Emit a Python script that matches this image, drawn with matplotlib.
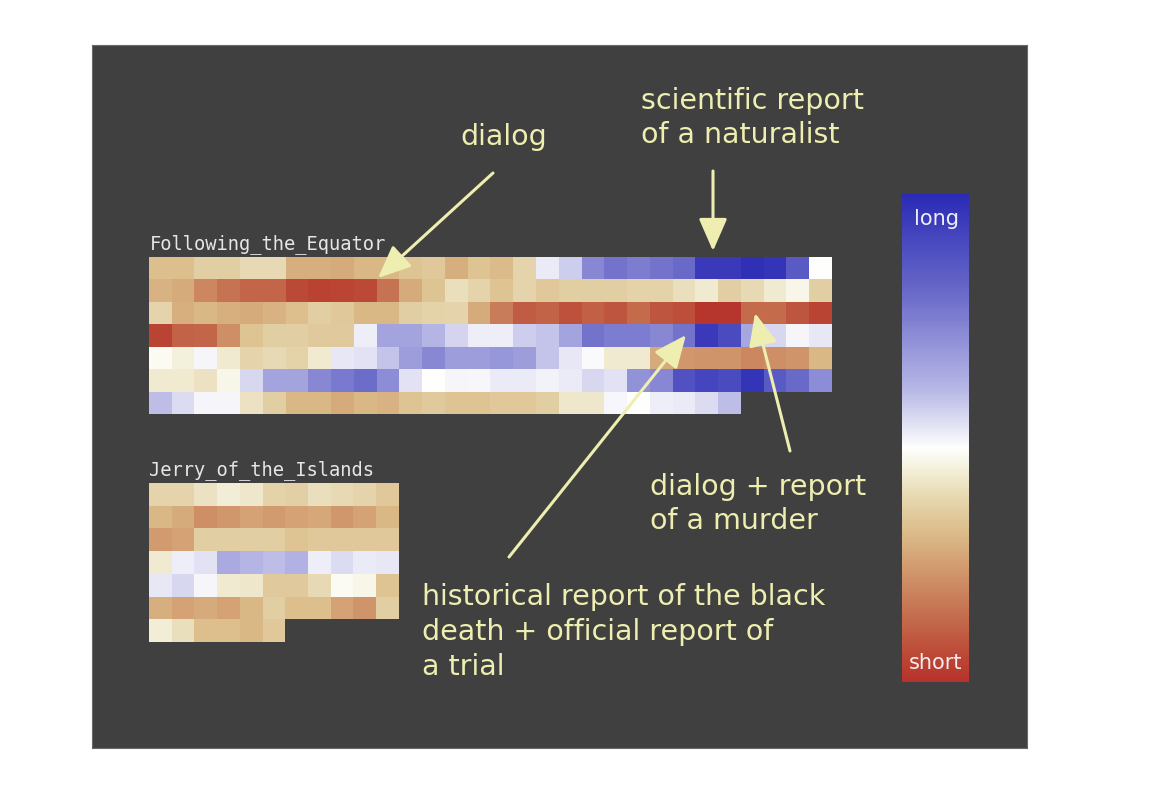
import numpy as np
import matplotlib
matplotlib.use("Agg")
import matplotlib.pyplot as plt
from matplotlib.colors import LinearSegmentedColormap, FuncNorm
from matplotlib.cm import ScalarMappable

nan = np.nan

# sentence-length score per cell: -1 = short, +1 = long
equator = [
    [-0.22, -0.22, -0.15, -0.15, -0.10, -0.10, -0.28, -0.28, -0.30, -0.25,
     -0.25, -0.20, -0.18, -0.28, -0.20, -0.23, -0.12, 0.10, 0.25, 0.55,
     0.65, 0.60, 0.65, 0.70, 0.88, 0.88, 0.95, 0.92, 0.75, 0.00],
    [-0.27, -0.30, -0.48, -0.55, -0.60, -0.60, -0.75, -0.80, -0.77, -0.75,
     -0.55, -0.30, -0.20, -0.08, -0.12, -0.20, -0.12, -0.18, -0.15, -0.15,
     -0.15, -0.13, -0.13, -0.08, -0.05, -0.15, -0.10, -0.05, -0.02, -0.15],
    [-0.12, -0.28, -0.25, -0.28, -0.30, -0.27, -0.22, -0.15, -0.18, -0.25,
     -0.25, -0.15, -0.13, -0.12, -0.30, -0.52, -0.65, -0.62, -0.70, -0.63,
     -0.68, -0.58, -0.68, -0.72, -0.92, -0.92, -0.58, -0.58, -0.68, -0.78],
    [-0.78, -0.62, -0.60, -0.45, -0.20, -0.15, -0.15, -0.17, -0.17, 0.08,
     0.42, 0.42, 0.33, 0.22, 0.08, 0.08, 0.25, 0.28, 0.42, 0.65,
     0.60, 0.60, 0.55, 0.65, 0.88, 0.80, 0.40, 0.20, 0.05, 0.12],
    [-0.01, -0.03, 0.05, -0.05, -0.12, -0.10, -0.13, -0.05, 0.12, 0.15,
     0.28, 0.45, 0.55, 0.45, 0.45, 0.48, 0.45, 0.28, 0.12, 0.02,
     -0.05, -0.05, -0.30, -0.40, -0.42, -0.42, -0.48, -0.45, -0.42, -0.25],
    [-0.05, -0.05, -0.07, -0.02, 0.20, 0.42, 0.42, 0.55, 0.62, 0.68,
     0.52, 0.15, 0.00, 0.05, 0.03, 0.10, 0.10, 0.06, 0.10, 0.20,
     0.15, 0.50, 0.55, 0.78, 0.82, 0.80, 0.92, 0.75, 0.70, 0.52],
    [0.30, 0.18, 0.05, 0.05, -0.07, -0.15, -0.25, -0.25, -0.30, -0.25,
     -0.27, -0.20, -0.17, -0.20, -0.20, -0.18, -0.18, -0.15, -0.06, -0.06,
     0.03, 0.00, 0.08, 0.10, 0.18, 0.30, nan, nan, nan, nan],
]

jerry = [
    [-0.12, -0.12, -0.07, -0.04, -0.06, -0.13, -0.14, -0.08, -0.10, -0.12, -0.18],
    [-0.25, -0.30, -0.45, -0.40, -0.35, -0.38, -0.35, -0.32, -0.40, -0.35, -0.25],
    [-0.38, -0.35, -0.15, -0.15, -0.15, -0.15, -0.20, -0.18, -0.18, -0.18, -0.18],
    [-0.05, 0.08, 0.15, 0.38, 0.33, 0.30, 0.35, 0.08, 0.18, 0.10, 0.12],
    [0.12, 0.20, 0.05, -0.05, -0.06, -0.17, -0.17, -0.10, -0.01, -0.02, -0.20],
    [-0.28, -0.35, -0.30, -0.35, -0.25, -0.15, -0.22, -0.22, -0.35, -0.42, -0.15],
    [-0.04, -0.08, -0.22, -0.22, -0.25, -0.18, nan, nan, nan, nan, nan],
]

# colour bar ramp, bottom (short) to top (long)
bar_pos = [0.0, 0.066, 0.127, 0.189, 0.25, 0.311, 0.373, 0.434, 0.48,
           0.496, 0.537, 0.598, 0.70, 0.803, 0.906, 1.0]
bar_colors = ["#b6322b", "#bd4e3a", "#c46a4c", "#cc8660", "#d4a274", "#dcbe8c",
              "#e6d6ae", "#f2efd8", "#ffffff", "#f4f4fa", "#dcdcf2", "#b8b8e6",
              "#9090d8", "#6868c8", "#4848c0", "#2a2ab5"]
cmap = LinearSegmentedColormap.from_list("lenmap", list(zip(bar_pos, bar_colors)))
cmap.set_bad((0, 0, 0, 0))

# score -> position on the bar
score_knots = [-1.0, -0.9, -0.75, -0.6, -0.45, -0.3, -0.2, -0.1, -0.03, 0.0,
               0.1, 0.25, 0.4, 0.55, 0.7, 0.85, 1.0]
bar_knots = [0.0, 0.01, 0.055, 0.12, 0.21, 0.27, 0.325, 0.38, 0.44, 0.48,
             0.51, 0.56, 0.64, 0.72, 0.80, 0.94, 1.0]

def fwd(v):
    return np.interp(v, score_knots, bar_knots)

def inv(p):
    return np.interp(p, bar_knots, score_knots)

norm = FuncNorm((fwd, inv), vmin=-1, vmax=1)

W, H = 1176, 786
fig = plt.figure(figsize=(W / 100, H / 100), dpi=100)
fig.patch.set_facecolor("white")

def box(x0, y0, x1, y1):
    # pixel box (top-left origin) -> figure fraction rect
    return [x0 / W, (H - y1) / H, (x1 - x0) / W, (y1 - y0) / H]

bg = fig.add_axes(box(92, 45, 1027, 748))
bg.set_facecolor("#404040")
bg.set_xticks([])
bg.set_yticks([])
for s in bg.spines.values():
    s.set_color("#6a6a6a")
    s.set_linewidth(0.8)

def heat(rect, data):
    ax = fig.add_axes(rect)
    ax.imshow(np.array(data), cmap=cmap, norm=norm,
              aspect="auto", interpolation="nearest")
    ax.set_facecolor("none")
    ax.axis("off")
    return ax

heat(box(149, 257, 831, 414), equator)
heat(box(149, 483, 399, 642), jerry)

cax = fig.add_axes(box(902, 194, 969, 682))
cb = fig.colorbar(ScalarMappable(norm=norm, cmap=cmap), cax=cax)
cb.set_ticks([])
cb.minorticks_off()
cb.outline.set_visible(False)

# overlay for labels and arrows, pixel coords
ov = fig.add_axes([0, 0, 1, 1])
ov.set_xlim(0, W)
ov.set_ylim(H, 0)
ov.axis("off")
ov.patch.set_alpha(0)

yellow = "#eeeeb0"
fs = 20.5
ov.text(150, 249, "Following_the_Equator", family="DejaVu Sans Mono", fontsize=13.5,
        color="#e6e6e6", va="baseline", ha="left")
ov.text(149, 475, "Jerry_of_the_Islands", family="DejaVu Sans Mono", fontsize=13.5,
        color="#e6e6e6", va="baseline", ha="left")

ov.text(936, 219, "long", fontsize=15, color="#eeeef6", ha="center", va="center")
ov.text(936, 663, "short", fontsize=15, color="#f6eeee", ha="center", va="center")

ov.text(504, 137, "dialog", fontsize=fs, color=yellow, ha="center", va="center")
ov.text(641, 118, "scientific report\nof a naturalist", fontsize=fs, color=yellow,
        ha="left", va="center", linespacing=1.3)
ov.text(650, 504, "dialog + report\nof a murder", fontsize=fs, color=yellow,
        ha="left", va="center", linespacing=1.3)
ov.text(422, 632, "historical report of the black\ndeath + official report of\na trial",
        fontsize=fs, color=yellow, ha="left", va="center", linespacing=1.3)

arrow = dict(arrowstyle="-|>,head_length=0.8,head_width=0.35", color=yellow,
             lw=2.2, mutation_scale=25, shrinkA=0, shrinkB=0)
ov.annotate("", xy=(378, 278), xytext=(493, 173), arrowprops=arrow)
ov.annotate("", xy=(713, 251), xytext=(713, 171), arrowprops=arrow)
ov.annotate("", xy=(686, 335), xytext=(509, 557), arrowprops=arrow)
ov.annotate("", xy=(755, 313), xytext=(790, 451), arrowprops=arrow)

fig.savefig("out.png", dpi=100)
